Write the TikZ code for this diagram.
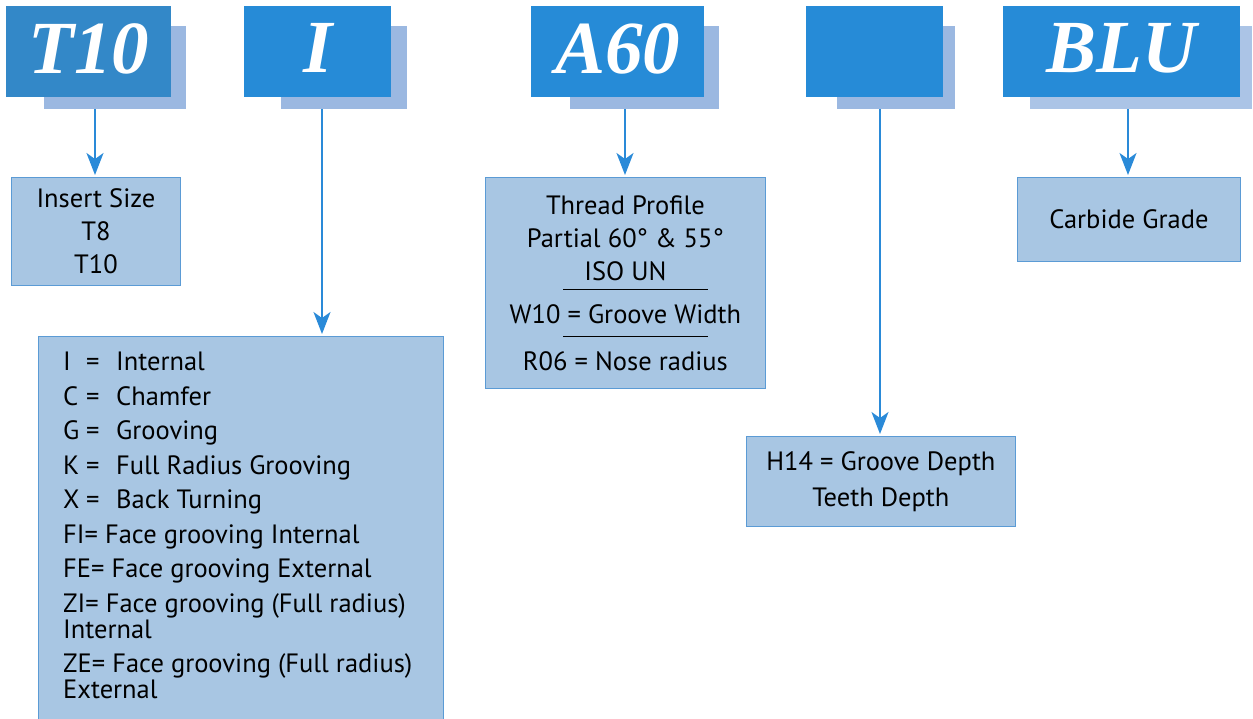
\documentclass[tikz,border=0pt]{standalone}
\usepackage{fontspec}
\setmainfont{PT Sans}
\newfontfamily\codefont{Liberation Serif}
\usetikzlibrary{arrows.meta, positioning}
\definecolor{CodeBlue}{RGB}{38,139,215}
\definecolor{CodeBlueDark}{RGB}{51,136,200}
\definecolor{ShadeBlue}{RGB}{155,184,225}
\definecolor{ShadeBlueLight}{RGB}{171,196,230}
\definecolor{BoxBlue}{RGB}{168,198,227}
\definecolor{LineBlue}{RGB}{91,155,213}
\definecolor{ArrowBlue}{RGB}{42,138,216}
\newcommand{\codeface}{\fontsize{75}{75}\codefont\bfseries\itshape}
\newcommand{\infoface}{\fontsize{26.5}{33}\selectfont}
\newcommand{\listface}{\fontsize{26.5}{26}\selectfont}
\newcommand{\sepline}{\hspace*{21pt}\rule{145pt}{1pt}}
\tikzstyle{code} = [rectangle, anchor=north west, inner sep=0pt, minimum height=91pt, fill=CodeBlue, text=white, font=\codeface, text depth=7pt]
\tikzstyle{codeshadow} = [rectangle, anchor=north west, inner sep=0pt, minimum height=83pt, fill=ShadeBlue]
\tikzstyle{info} = [rectangle, anchor=north west, inner sep=0pt, text centered, align=center, draw=LineBlue, line width=0.8pt, fill=BoxBlue, font=\infoface]
\tikzstyle{arrow} = [line width=1.8pt, draw=ArrowBlue, shorten >=2pt, -{Stealth[length=22pt, width=17pt, inset=6pt]}]

\begin{document}
\begin{tikzpicture}[x=1pt, y=-1pt]
  \useasboundingbox (0,0) rectangle (1253,718);

  % code letters with their shadows
  \node (shadow_size) [codeshadow, minimum width=142pt] at (44,26) {};
  \node (code_size) [code, minimum width=165pt, fill=CodeBlueDark] at (6,6) {T10};
  \node (shadow_type) [codeshadow, minimum width=126pt] at (281,26) {};
  \node (code_type) [code, minimum width=147pt] at (244,6) {I};
  \node (shadow_profile) [codeshadow, minimum width=149pt] at (570,26) {};
  \node (code_profile) [code, minimum width=173pt] at (531,6) {A60};
  \node (shadow_depth) [codeshadow, minimum width=118pt] at (837,26) {};
  \node (code_depth) [code, minimum width=137pt] at (806,6) {};
  \node (shadow_grade) [codeshadow, minimum width=222pt, fill=ShadeBlueLight] at (1030,26) {};
  \node (code_grade) [code, minimum width=237pt] at (1003,6) {BLU};

  % meaning of each code
  \node (size) [info, minimum width=169pt, minimum height=108pt] at (11,177) {Insert Size\\ T8\\ T10};
  \node (type) [info, minimum width=405pt, minimum height=390pt] at (38,336) {};
  \node (type_list) [anchor=north west, inner sep=0pt, align=left, font=\listface] at (63,352) {%
    \makebox[23pt][l]{I}\makebox[30pt][l]{=}Internal\\[8.5pt]
    \makebox[23pt][l]{C}\makebox[30pt][l]{=}Chamfer\\[8.5pt]
    \makebox[23pt][l]{G}\makebox[30pt][l]{=}Grooving\\[8.5pt]
    \makebox[23pt][l]{K}\makebox[30pt][l]{=}Full Radius Grooving\\[8.5pt]
    \makebox[23pt][l]{X}\makebox[30pt][l]{=}Back Turning\\[8.5pt]
    FI= Face grooving Internal\\[8.5pt]
    FE= Face grooving External\\[8.5pt]
    ZI= Face grooving (Full radius)\\
    Internal\\[8pt]
    ZE= Face grooving (Full radius)\\
    External};
  \node (profile) [info, minimum width=280pt, minimum height=211pt] at (485,177) {Thread Profile\\ Partial 60° \& 55°\\ ISO UN\\[-23pt]
    \sepline\\ W10 = Groove Width\\[-19pt] \sepline\\ R06 = Nose radius};
  \node (depth) [info, minimum width=269pt, minimum height=90pt] at (746,436) {H14 = Groove Depth\\[3pt] Teeth Depth};
  \node (grade) [info, minimum width=223pt, minimum height=84pt] at (1017,177) {Carbide Grade};

  \coordinate (from_size) at (95,109);
  \coordinate (from_type) at (322,109);
  \coordinate (from_profile) at (625,109);
  \coordinate (from_depth) at (880,109);
  \coordinate (from_grade) at (1128,109);

  \draw [arrow] (from_size) -- (from_size |- size.north);
  \draw [arrow] (from_type) -- (from_type |- type.north);
  \draw [arrow] (from_profile) -- (from_profile |- profile.north);
  \draw [arrow] (from_depth) -- (from_depth |- depth.north);
  \draw [arrow] (from_grade) -- (from_grade |- grade.north);

\end{tikzpicture}
\end{document}
